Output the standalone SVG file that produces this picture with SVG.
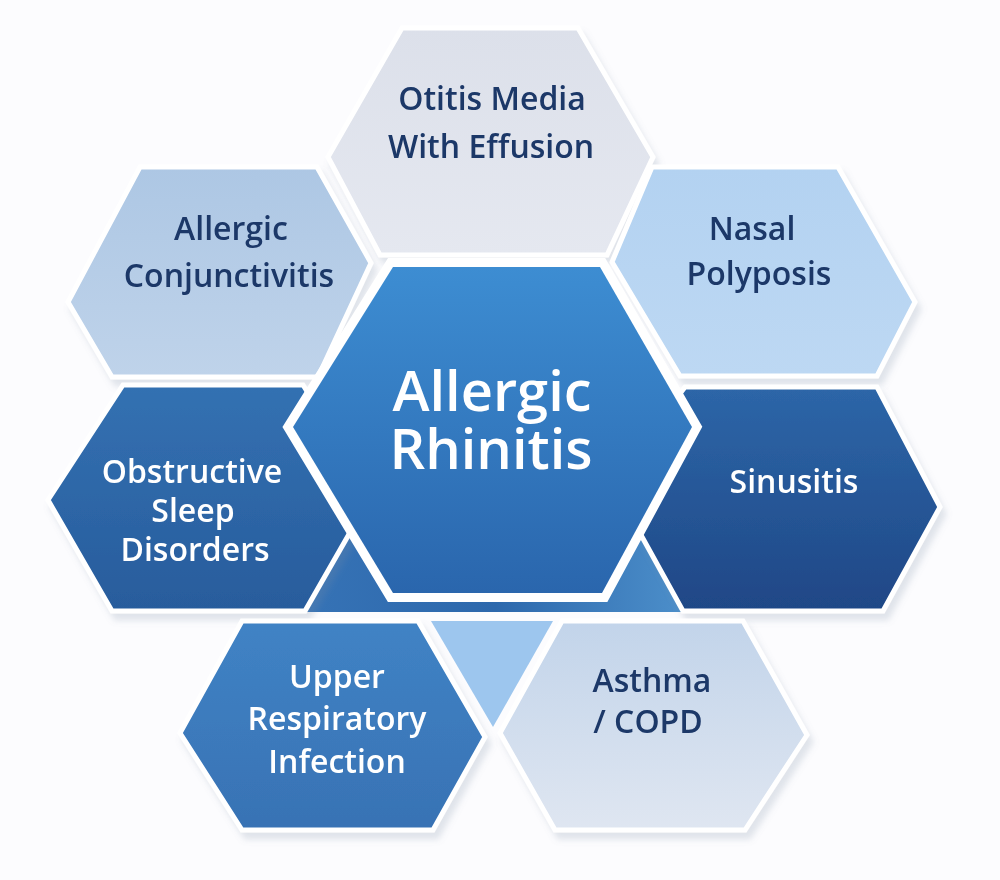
<svg xmlns="http://www.w3.org/2000/svg" width="1000" height="880" viewBox="0 0 1000 880">
<defs>
<style>
.t{font-family:"Open Sans","Noto Sans","Liberation Sans",sans-serif;font-weight:600;font-size:32px;text-anchor:middle}
.dk{fill:#1b3768}
.wh{fill:#ffffff}
.big{font-size:56px;font-weight:600}
.hx{stroke:#ffffff;stroke-width:5;stroke-linejoin:miter}
</style>
<filter id="sh" x="-10%" y="-10%" width="125%" height="130%">
<feDropShadow dx="4" dy="7" stdDeviation="3" flood-color="#7d8ca6" flood-opacity="0.22"/>
</filter>
<linearGradient id="gOt" x1="0" y1="0" x2="0" y2="1"><stop offset="0" stop-color="#dce0ea"/><stop offset="1" stop-color="#e5e8f0"/></linearGradient>
<linearGradient id="gCj" x1="0" y1="0" x2="0" y2="1"><stop offset="0" stop-color="#adc7e4"/><stop offset="1" stop-color="#bfd3ea"/></linearGradient>
<linearGradient id="gNp" x1="0" y1="0" x2="0" y2="1"><stop offset="0" stop-color="#b3d2f1"/><stop offset="1" stop-color="#bdd8f3"/></linearGradient>
<linearGradient id="gSl" x1="0" y1="0" x2="0" y2="1"><stop offset="0" stop-color="#3371b2"/><stop offset="1" stop-color="#285c9c"/></linearGradient>
<linearGradient id="gSi" x1="0" y1="0" x2="0" y2="1"><stop offset="0" stop-color="#2d66a8"/><stop offset="1" stop-color="#1f4786"/></linearGradient>
<linearGradient id="gUr" x1="0" y1="0" x2="0" y2="1"><stop offset="0" stop-color="#4083c5"/><stop offset="1" stop-color="#3872b4"/></linearGradient>
<linearGradient id="gAs" x1="0" y1="0" x2="0" y2="1"><stop offset="0" stop-color="#c2d4ea"/><stop offset="1" stop-color="#dfe6f1"/></linearGradient>
<linearGradient id="gCe" x1="0" y1="0" x2="0" y2="1"><stop offset="0" stop-color="#3d8dd2"/><stop offset="1" stop-color="#2a66ad"/></linearGradient>
<linearGradient id="gBk" x1="0" y1="0" x2="1" y2="0"><stop offset="0" stop-color="#3673b6"/><stop offset="0.5" stop-color="#2d68ac"/><stop offset="1" stop-color="#4d90cb"/></linearGradient>
</defs>
<rect width="1000" height="880" fill="#fcfcfe"/>
<g id="connectors"/>
<g id="back">
<polygon points="300,500 690,500 690,612 300,612" fill="url(#gBk)"/>
<polygon points="431,621 553,621 493,727" fill="#9dc6ee"/>
</g>
<g id="otitis-media" filter="url(#sh)">
<polygon class="hx" points="402,28 578,28 653,157 607,255 380,255 328,157" fill="url(#gOt)"/>
<text class="t dk" x="492" y="110">Otitis Media</text>
<text class="t dk" x="491" y="158">With Effusion</text>
</g>
<g id="allergic-conjunctivitis" filter="url(#sh)">
<polygon class="hx" points="140,167 317,167 371,263 318,377 112,377 68,302" fill="url(#gCj)"/>
<text class="t dk" x="231" y="240">Allergic</text>
<text class="t dk" x="229" y="287">Conjunctivitis</text>
</g>
<g id="nasal-polyposis" filter="url(#sh)">
<polygon class="hx" points="652,167 838,167 915,302 877,376 680,376 612,262" fill="url(#gNp)"/>
<text class="t dk" x="752" y="240">Nasal</text>
<text class="t dk" x="759" y="285">Polyposis</text>
</g>
<g id="obstructive-sleep-disorders" filter="url(#sh)">
<polygon class="hx" points="123,385 303,385 372,494 305,611 112,611 48,500" fill="url(#gSl)"/>
<text class="t wh" x="192" y="483">Obstructive</text>
<text class="t wh" x="193" y="522">Sleep</text>
<text class="t wh" x="195" y="561">Disorders</text>
</g>
<g id="sinusitis" filter="url(#sh)">
<polygon class="hx" points="685,387 877,387 940,507 883,611 683,611 620,497 660,420" fill="url(#gSi)"/>
<text class="t wh" x="794" y="493">Sinusitis</text>
</g>
<g id="upper-respiratory-infection" filter="url(#sh)">
<polygon class="hx" points="242,621 418,621 485,737 433,830 242,830 180,733" fill="url(#gUr)"/>
<text class="t wh" x="337" y="688">Upper</text>
<text class="t wh" x="337" y="730">Respiratory</text>
<text class="t wh" x="337" y="773">Infection</text>
</g>
<g id="asthma-copd" filter="url(#sh)">
<polygon class="hx" points="562,621 743,621 807,735 745,830 555,830 500,733" fill="url(#gAs)"/>
<text class="t dk" x="652" y="692">Asthma</text>
<text class="t dk" x="648" y="733">/ COPD</text>
</g>
<g id="allergic-rhinitis">
<polygon points="393,267 600,267 692,427 602,593 393,593 293,427" fill="url(#gCe)" stroke="#ffffff" stroke-width="18" stroke-linejoin="miter" paint-order="stroke"/>
<text class="t wh big" x="492" y="411">Allergic</text>
<text class="t wh big" x="491" y="469">Rhinitis</text>
</g>
</svg>
